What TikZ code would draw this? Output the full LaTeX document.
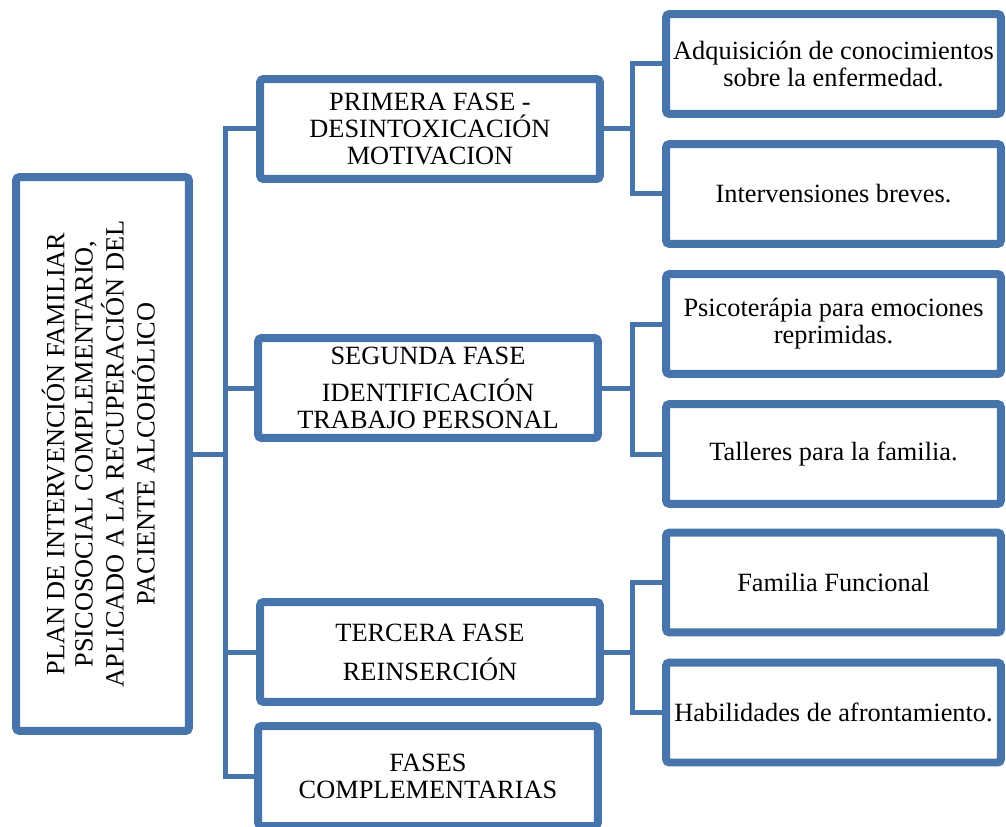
\documentclass[tikz,border=0pt]{standalone}
\usepackage{fontspec}
\setmainfont{Liberation Serif}
\usetikzlibrary{shadows}
\definecolor{boxblue}{RGB}{71,116,170}

\begin{document}
\begin{tikzpicture}[x=.02cm,y=-.02cm,
  font=\fontsize{15}{15.3}\selectfont,
  box/.style={draw=boxblue,line width=.16cm,fill=white,rounded corners=2pt,
    align=center,inner sep=0pt,
    drop shadow={shadow xshift=1.2pt,shadow yshift=-2pt,opacity=.25}},
  phase/.style={box,minimum width=6.8cm,minimum height=2cm},
  leaf/.style={box,minimum width=6.7cm,minimum height=2cm},
  link/.style={draw=boxblue,line width=.1cm}]
  \useasboundingbox (0,0) rectangle (1006,827);
  \node[box,minimum width=3.46cm,minimum height=11.08cm] (main) at (102.5,454)
    {\rotatebox{90}{\fontsize{15}{16}\selectfont
     \begin{tabular}{@{}c@{}}PLAN DE INTERVENCIÓN FAMILIAR\\
      PSICOSOCIAL COMPLEMENTARIO,\\
      APLICADO A LA RECUPERACIÓN DEL\\
      PACIENTE ALCOHÓLICO\end{tabular}}};
  \node[phase] (p1) at (430,129) {PRIMERA FASE -\\DESINTOXICACIÓN\\MOTIVACION};
  \node[phase] (p2) at (428,388) {SEGUNDA FASE\\[5.7pt]IDENTIFICACIÓN\\TRABAJO PERSONAL};
  \node[phase] (p3) at (430,652) {TERCERA FASE\\[6.8pt]REINSERCIÓN};
  \node[phase] (p4) at (428,776) {FASES\\COMPLEMENTARIAS};
  \node[leaf] (r1) at (833.5,64) {Adquisición de conocimientos\\sobre la enfermedad.};
  \node[leaf] (r2) at (833.5,194) {Intervensiones breves.};
  \node[leaf] (r3) at (833.5,324) {Psicoterápia para emociones\\reprimidas.};
  \node[leaf] (r4) at (833.5,454) {Talleres para la familia.};
  \node[leaf] (r5) at (833.5,582.5) {Familia Funcional};
  \node[leaf] (r6) at (833.5,712.5) {Habilidades de afrontamiento.};
  \coordinate (spine) at (225,453);
  \coordinate (k1) at (632,129);
  \coordinate (k2) at (632,388);
  \coordinate (k3) at (632,652);
  \draw[link] (main.east) -- (main.east -| spine);
  \draw[link] (p1.west) -| (spine |- p4.west) -- (p4.west);
  \draw[link] (p2.west) -- (p2.west -| spine);
  \draw[link] (p3.west) -- (p3.west -| spine);
  \draw[link] (p1.east) -- (k1);
  \draw[link] (r1.west) -| (k1) |- (r2.west);
  \draw[link] (p2.east) -- (k2);
  \draw[link] (r3.west) -| (k2) |- (r4.west);
  \draw[link] (p3.east) -- (k3);
  \draw[link] (r5.west) -| (k3) |- (r6.west);
\end{tikzpicture}
\end{document}
